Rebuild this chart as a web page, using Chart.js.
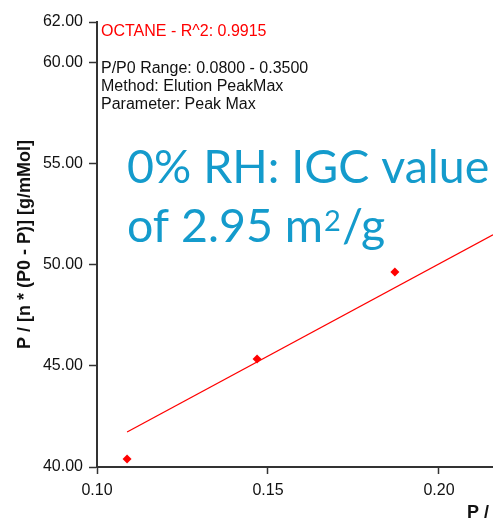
<!DOCTYPE html>
<html>
<head>
<meta charset="utf-8">
<script src="https://cdn.jsdelivr.net/npm/chart.js@4/dist/chart.umd.min.js"></script>
<style>
  html, body { margin: 0; padding: 0; background: #fff; overflow: hidden; }
  #wrap { width: 493px; height: 519px; }
</style>
</head>
<body>
<div id="wrap"><canvas id="igcChart" width="493" height="519"></canvas></div>
<script>
// measured points (P/P0 vs P/[n*(P0-P)])
const pointX = [0.1088, 0.1468, 0.1871];
const pointY = [40.40, 45.34, 49.64];

// fitted line, start and end
const fitX = [0.1088, 0.2158];
const fitY = [41.73, 51.48];

const xTicks = [0.10, 0.15, 0.20];
const yTicks = [40, 45, 50, 55, 60, 62];

const fitLabel = 'OCTANE - R^2: 0.9915';
const infoLines = ['P/P0 Range: 0.0800 - 0.3500', 'Method: Elution PeakMax', 'Parameter: Peak Max'];
const headLine1 = '0% RH: IGC value';
const headLine2 = ['of 2.95 m', '2', '/g'];
const yTitle = 'P / [n * (P0 - P)] [g/mMol]';
const xTitle = 'P /';

const RED = '#ff0000';
const AXIS = '#333333';
const BLUE = '#149bcc';
const SANS = '"Liberation Sans", Arial, sans-serif';

const textPlugin = {
    id: 'textPlugin',
    afterDraw(chart) {
        const ctx = chart.ctx;
        ctx.save();
        ctx.textAlign = 'left';
        ctx.textBaseline = 'alphabetic';

        // info block in the top left
        ctx.font = '16px ' + SANS;
        ctx.fillStyle = RED;
        ctx.fillText(fitLabel, 101, 36);
        ctx.fillStyle = '#111';
        infoLines.forEach((t, i) => ctx.fillText(t, 101, 73 + i * 18));

        // big headline
        ctx.fillStyle = BLUE;
        ctx.font = '46.5px Lato, sans-serif';
        ctx.fillText(headLine1, 127, 183);
        let x = 127;
        ctx.fillText(headLine2[0], x, 242);
        x += ctx.measureText(headLine2[0]).width + 1;
        ctx.font = '29px Lato, sans-serif';
        ctx.fillText(headLine2[1], x, 231);
        x += ctx.measureText(headLine2[1]).width + 1;
        ctx.font = '46.5px Lato, sans-serif';
        ctx.fillText(headLine2[2], x, 242);

        // x title, cut by the right edge
        ctx.fillStyle = '#111';
        ctx.font = 'bold 18px ' + SANS;
        ctx.fillText(xTitle, 467, 518);
        ctx.restore();
    }
};

new Chart(document.getElementById('igcChart'), {
    type: 'scatter',
    data: {
        datasets: [
            {
                label: 'points',
                data: pointX.map((x, i) => ({ x: x, y: pointY[i] })),
                pointStyle: 'rectRot',
                pointRadius: 4.5,
                backgroundColor: RED,
                borderWidth: 0,
                showLine: false
            },
            {
                label: 'fit',
                data: fitX.map((x, i) => ({ x: x, y: fitY[i] })),
                showLine: true,
                pointRadius: 0,
                borderColor: RED,
                borderWidth: 1.3,
                fill: false
            }
        ]
    },
    options: {
        responsive: false,
        devicePixelRatio: 1,
        animation: false,
        layout: { autoPadding: false, padding: { top: 22, left: 0, right: 0, bottom: 0 } },
        plugins: {
            legend: { display: false },
            tooltip: { enabled: false }
        },
        scales: {
            x: {
                type: 'linear',
                min: 0.10,
                max: 0.2158,
                afterBuildTicks: s => { s.ticks = xTicks.map(v => ({ value: v })); },
                afterFit: s => { s.height = 52; s.paddingLeft = 0; s.paddingRight = 0; },
                ticks: {
                    callback: v => v.toFixed(2),
                    font: { size: 16, family: SANS },
                    color: '#111',
                    padding: 7,
                    maxRotation: 0
                },
                grid: { drawOnChartArea: false, tickLength: 7, tickColor: AXIS, tickWidth: 1.5 },
                border: { color: AXIS, width: 2 }
            },
            y: {
                min: 40,
                max: 62,
                afterBuildTicks: s => { s.ticks = yTicks.map(v => ({ value: v })); },
                afterFit: s => { s.width = 97; },
                ticks: {
                    callback: v => v.toFixed(2),
                    font: { size: 16, family: SANS },
                    color: '#111',
                    padding: 6
                },
                grid: { drawOnChartArea: false, tickLength: 8, tickColor: AXIS, tickWidth: 1.5 },
                border: { color: AXIS, width: 2 },
                title: {
                    display: true,
                    text: yTitle,
                    font: { size: 18, weight: 'bold', family: SANS },
                    color: '#111',
                    padding: { top: 14, bottom: 0 }
                }
            }
        }
    },
    plugins: [textPlugin]
});
</script>
</body>
</html>
